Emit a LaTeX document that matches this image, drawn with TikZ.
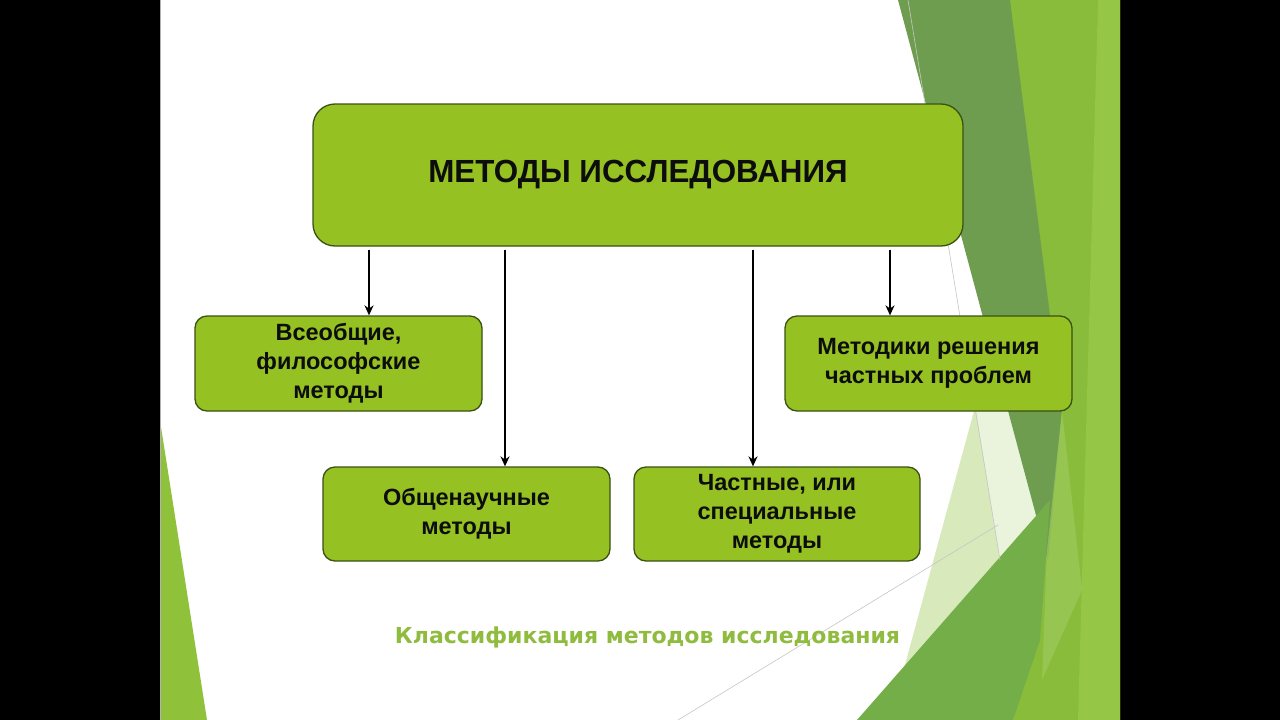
\documentclass[tikz,border=0pt]{standalone}
\usepackage{fontspec}
\setmainfont{Liberation Sans}
\newfontfamily\titlefont[FakeStretch=0.98]{Liberation Sans}
\newfontfamily\capfont{DejaVu Sans}
\usetikzlibrary{arrows.meta,calc}
\definecolor{boxfill}{HTML}{95C122}
\definecolor{boxline}{HTML}{3A5214}
\definecolor{captxt}{HTML}{8FBB3E}
\definecolor{brightg}{HTML}{88BC3A}
\definecolor{lightg}{HTML}{95C645}
\definecolor{darkband}{HTML}{6E9D50}
\definecolor{medg}{HTML}{74AE48}
\definecolor{paleg}{HTML}{D8E9BC}
\definecolor{paleg2}{HTML}{EAF3DC}
\definecolor{stripg}{HTML}{A2CC62}
\definecolor{cornerg}{HTML}{8FC23A}
\tikzset{
  gbox/.style={draw=boxline, line width=1.3pt, fill=boxfill, rounded corners=12pt,
    align=center, inner sep=0pt, text=black!95,
    font=\bfseries\fontsize{23.5}{29}\selectfont},
  topbox/.style={gbox, rounded corners=22pt, font=\titlefont\bfseries\fontsize{32}{38}\selectfont},
  arr/.style={draw=black, line width=2.2pt, -{Stealth[length=10pt,width=9pt]}},
  thin/.style={draw=gray!45, line width=0.6pt}
}
\begin{document}
\begin{tikzpicture}[x=1pt,y=-1pt]
\useasboundingbox (0,0) rectangle (1280,720);
% frame
\fill[black] (0,0) rectangle (1280,720);
\fill[white] (160,0) rectangle (1120,720);
\draw[gray!60, line width=1pt] (160.5,0) -- (160.5,720);
% bottom-left decoration
\fill[cornerg] (161,427) -- (207,720) -- (161,720) -- cycle;
% right decoration
\fill[brightg] (1010,0) -- (1120,0) -- (1120,720) -- (1005,720) -- cycle;
\fill[lightg] (1098,0) -- (1120,0) -- (1120,720) -- (1078,720) -- cycle;
\fill[paleg] (890,720) -- (977,400) -- (1012,400) -- (1050,500) -- (1013,720) -- cycle;
\fill[paleg2] (976,410) -- (1010,410) -- (1046,545) -- (1000,560) -- cycle;
\fill[darkband] (898,0) -- (1010,0) -- (1062,410) -- (1048,560) -- cycle;
\fill[medg] (857,720) -- (1050,500) -- (1040,640) -- (1013,720) -- cycle;
\fill[stripg, opacity=0.6] (1062,410) -- (1082,590) -- (1042,680) -- (1047,550) -- cycle;
\draw[thin] (908,0) -- (1000,560);
\draw[thin] (678,720) -- (998,525);
% boxes
\node[topbox, minimum width=650pt, minimum height=142pt] (top) at (638,175) {МЕТОДЫ ИССЛЕДОВАНИЯ};
\node[gbox, minimum width=287pt, minimum height=95pt] (b1) at (338.5,363.5) {Всеобщие,\\философские\\методы};
\node[gbox, minimum width=287pt, minimum height=95pt] (b4) at (928.5,363.5) {Методики решения\\частных проблем};
\node[gbox, minimum width=287pt, minimum height=94pt] (b2) at (466.5,514) {Общенаучные\\методы};
\node[gbox, minimum width=286pt, minimum height=94pt] (b3) at (777,514) {Частные, или\\специальные\\методы};
% arrow x positions
\coordinate (x1) at (369,0);
\coordinate (x2) at (505,0);
\coordinate (x3) at (753,0);
\coordinate (x4) at (890,0);
\draw[arr] ([yshift=-3pt]top.south -| x1) -- (b1.north -| x1);
\draw[arr] ([yshift=-3pt]top.south -| x2) -- (b2.north -| x2);
\draw[arr] ([yshift=-3pt]top.south -| x3) -- (b3.north -| x3);
\draw[arr] ([yshift=-3pt]top.south -| x4) -- (b4.north -| x4);
% caption
\node[text=captxt, font=\capfont\bfseries\fontsize{22}{26}\selectfont, inner sep=0pt] (cap) at (647.5,637) {Классификация методов исследования};
\end{tikzpicture}
\end{document}
